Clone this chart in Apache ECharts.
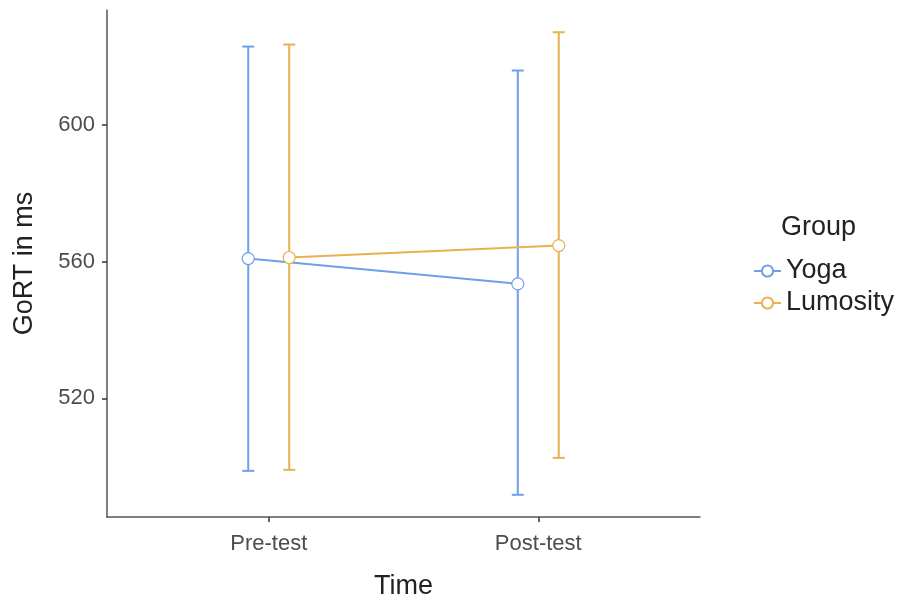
<!DOCTYPE html>
<html><head><meta charset="utf-8">
<script src="https://cdn.jsdelivr.net/npm/echarts@6/dist/echarts.min.js"></script>
<style>html,body{margin:0;padding:0;background:#fff}#c{width:906px;height:605px}</style>
</head><body><div id="c"></div>
<script>
const categories = ['Pre-test', 'Post-test'];
const groups = ['Yoga', 'Lumosity'];
const yogaMean = [560.9, 553.5];
const yogaLower = [498.8, 491.8];
const yogaUpper = [622.9, 615.9];
const lumMean = [561.2, 564.7];
const lumLower = [499.1, 502.6];
const lumUpper = [623.5, 627.1];
const yTicks = [520, 560, 600];

const colors = ['#6f9fe9', '#e9b150'];
const dodge = [-0.076, 0.076];
const font = 'Liberation Sans, Arial, sans-serif';

const seriesData = [
  {mean: yogaMean, lower: yogaLower, upper: yogaUpper},
  {mean: lumMean, lower: lumLower, upper: lumUpper}
];

const series = [];
groups.forEach((g, gi) => {
  const d = seriesData[gi];
  series.push({
    type: 'custom',
    name: g + ' (error)',
    z: 1,
    silent: true,
    data: categories.map((c, i) => [i + 1 + dodge[gi], d.lower[i], d.upper[i]]),
    renderItem: function (params, api) {
      const x = api.value(0);
      const lo = api.coord([x, api.value(1)]);
      const hi = api.coord([x, api.value(2)]);
      const hw = 6;
      const style = {stroke: colors[gi], lineWidth: 2, fill: null};
      return {
        type: 'group',
        children: [
          {type: 'line', shape: {x1: lo[0], y1: lo[1], x2: hi[0], y2: hi[1]}, style: style},
          {type: 'line', shape: {x1: lo[0] - hw, y1: lo[1], x2: lo[0] + hw, y2: lo[1]}, style: style},
          {type: 'line', shape: {x1: hi[0] - hw, y1: hi[1], x2: hi[0] + hw, y2: hi[1]}, style: style}
        ]
      };
    }
  });
  series.push({
    type: 'line',
    name: g,
    z: 3,
    data: categories.map((c, i) => [i + 1 + dodge[gi], d.mean[i]]),
    symbol: 'circle',
    symbolSize: 12,
    showAllSymbol: true,
    color: colors[gi],
    lineStyle: {color: colors[gi], width: 2},
    itemStyle: {color: '#ffffff', borderColor: colors[gi], borderWidth: 1.2},
    emphasis: {disabled: true}
  });
});

const chart = echarts.init(document.getElementById('c'), null, {renderer: 'canvas'});
chart.setOption({
  animation: false,
  backgroundColor: '#ffffff',
  grid: {left: 107, right: 206, top: 10, bottom: 88, containLabel: false},
  title: {
    text: 'Group', left: 776, top: 209,
    textStyle: {fontFamily: font, fontSize: 27, fontWeight: 'normal', color: '#222'}
  },
  legend: {
    data: groups,
    orient: 'vertical',
    left: 748, top: 252,
    itemWidth: 27, itemHeight: 14, itemGap: 4,
    textStyle: {fontFamily: font, fontSize: 27, lineHeight: 28, color: '#222'}
  },
  xAxis: {
    type: 'value', min: 0.4, max: 2.6,
    name: 'Time', nameLocation: 'middle', nameGap: 56,
    nameTextStyle: {fontFamily: font, fontSize: 27, color: '#222'},
    axisLine: {show: true, lineStyle: {color: '#555', width: 1.5}},
    axisTick: {show: true, customValues: [1, 2], length: 5, lineStyle: {color: '#333', width: 1.5}},
    axisLabel: {customValues: [1, 2], formatter: v => categories[Math.round(v) - 1] || '', fontFamily: font, fontSize: 22, color: '#4d4d4d', margin: 16},
    splitLine: {show: false}
  },
  yAxis: {
    type: 'value', min: 485.3, max: 633.6,
    name: 'GoRT in ms', nameLocation: 'middle', nameGap: 69, nameRotate: 90,
    nameTextStyle: {fontFamily: font, fontSize: 27, color: '#222'},
    axisLine: {show: true, lineStyle: {color: '#555', width: 1.5}},
    axisTick: {show: true, customValues: yTicks, length: 5, lineStyle: {color: '#333', width: 1.5}},
    axisLabel: {customValues: yTicks, fontFamily: font, fontSize: 22, color: '#4d4d4d', margin: 12},
    splitLine: {show: false}
  },
  series: series
});
</script>
</body></html>
